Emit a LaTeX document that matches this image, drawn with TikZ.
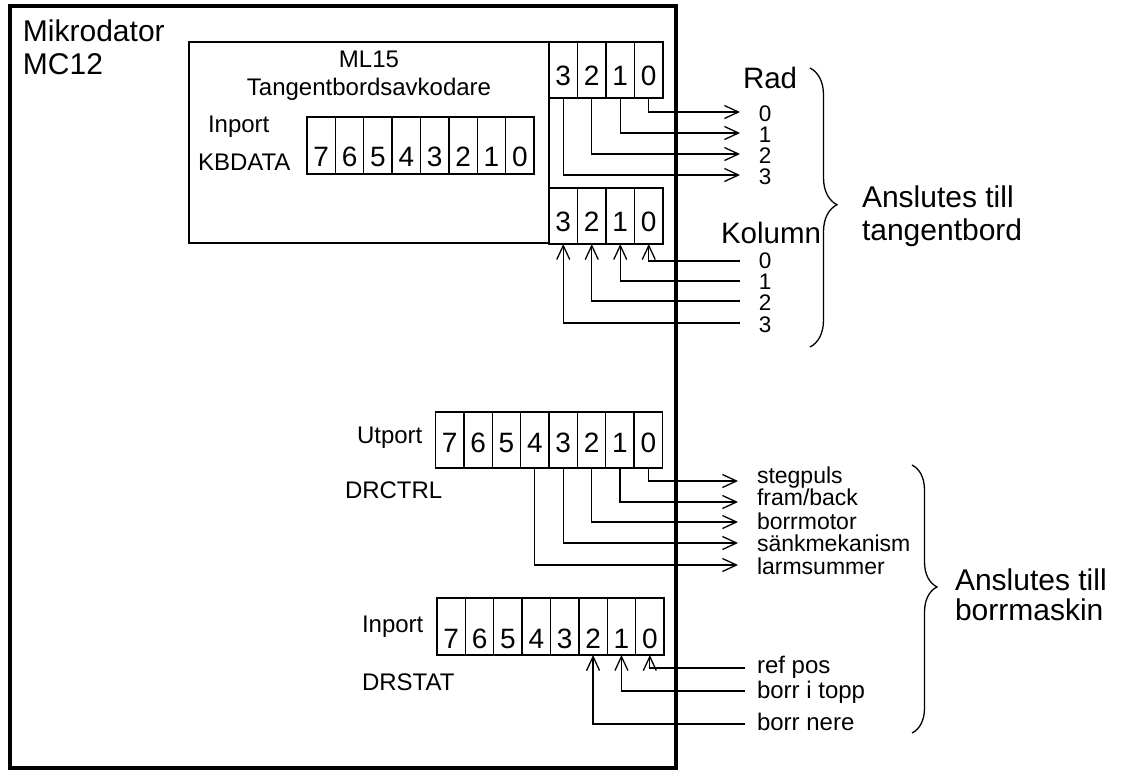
\documentclass[tikz,border=0pt]{standalone}
\usepackage{fontspec}
\setmainfont{Liberation Sans}
\usetikzlibrary{arrows.meta,decorations.pathreplacing}
\begin{document}
\begin{tikzpicture}[x=1pt,y=-1pt,
  every node/.style={inner sep=0pt, outer sep=0pt},
  wire/.style={line width=1.3pt},
  arr/.style={wire, -{Straight Barb[length=14pt,width=13pt]}},
  cell/.style={draw, wire, minimum height=57pt, text depth=0pt, font=\fontsize{28}{31}\selectfont},
  lbl/.style={anchor=base west, font=\fontsize{24}{28}\selectfont},
  sig/.style={anchor=base west, font=\fontsize{23}{26}\selectfont},
  ctr/.style={anchor=base, font=\fontsize{24}{28}\selectfont},
  big/.style={anchor=base west, font=\fontsize{30}{34}\selectfont},
  mid/.style={anchor=base west, font=\fontsize{29.5}{33}\selectfont},
  num/.style={anchor=base, font=\fontsize{22.5}{25}\selectfont},
  bracestyle/.style={wire, decorate}
]
\useasboundingbox (0,0) rectangle (1124,772);

% outer computer box
\node[draw, line width=3.5pt, minimum width=666pt, minimum height=762pt, anchor=north west] (mc) at (10,6) {};
\node[big] (mik) at (23,41) {Mikrodator};
\node[big] (mcn) at (23,74) {MC12};

% ML15 box
\node[draw, wire, minimum width=360pt, minimum height=201pt, anchor=north west] (ml) at (189,42) {};
\node[ctr] (mlt) at (369,67) {ML15};
\node[ctr] (mlt2) at (369,95) {Tangentbordsavkodare};
\node[lbl] (kbin) at (208,132) {Inport};
\node[lbl] (kbname) at (198,170) {KBDATA};

% KBDATA register
\foreach \b [count=\k from 0] in {7,6,5,4,3,2,1,0}
  \node[cell, minimum width=28.375pt, text height=41pt] (kb\b) at ({307+28.375*(\k+0.5)},145.5) {\b};

% row register (upper)
\foreach \b [count=\k from 0] in {3,2,1,0}
  \node[cell, minimum width=28.5pt, minimum height=56pt, text height=30pt] (tr\b) at ({549+28.5*(\k+0.5)},70) {\b};
% column register (lower)
\foreach \b [count=\k from 0] in {3,2,1,0}
  \node[cell, minimum width=28.5pt, minimum height=56pt, text height=31pt] (br\b) at ({549+28.5*(\k+0.5)},216) {\b};

% Utport DRCTRL
\node[lbl] (utl) at (357,443) {Utport};
\node[lbl] (drc) at (345,498) {DRCTRL};
\foreach \b [count=\k from 0] in {7,6,5,4,3,2,1,0}
  \node[cell, minimum width=28.375pt, minimum height=56pt, text height=24pt] (u\b) at ({435.5+28.375*(\k+0.5)},440) {\b};

% Inport DRSTAT
\node[lbl] (dsin) at (362,632) {Inport};
\node[lbl] (dsn) at (362,690) {DRSTAT};
\foreach \b [count=\k from 0] in {7,6,5,4,3,2,1,0}
  \node[cell, minimum width=28.375pt, text height=43pt] (d\b) at ({437+28.375*(\k+0.5)},626.5) {\b};

% Rad connectors
\node[mid] (rad) at (743,88) {Rad};
\foreach \b/\y/\t in {0/112/121,1/133/142,2/154/163,3/175/184} {
  \coordinate (rt\b) at (740,\y);
  \draw[arr] (tr\b.south) |- (rt\b);
  \node[num] (rn\b) at (765,\t) {\b};
}

% Kolumn connectors
\node[mid] (kol) at (721,243) {Kolumn};
\foreach \b/\y/\t in {0/261/268,1/281/289,2/301/310,3/323/332} {
  \coordinate (ct\b) at (740,\y);
  \draw[arr] (ct\b) -| (br\b.south);
  \node[num] (cn\b) at (765,\t) {\b};
}

% brace keyboard
\coordinate (b1s) at (810,68);
\coordinate (b1e) at (810,347);
\draw[bracestyle, decoration={brace, amplitude=27pt, aspect=0.49}] (b1s) -- (b1e);
\node[big] (a1) at (862,207) {Anslutes till};
\node[big] (a2) at (862,240) {tangentbord};

% DRCTRL outputs
\foreach \b/\y/\t/\s in {0/481/483/stegpuls,1/502/505/fram\slash back,2/522/529/borrmotor,3/543/551/sänkmekanism,4/565/574/larmsummer} {
  \coordinate (ut\b) at (738,\y);
  \draw[arr] (u\b.south) |- (ut\b);
  \node[sig] (ul\b) at (757,\t) {\s};
}

% DRSTAT inputs
\foreach \b/\y/\t/\s in {0/668/673/ref pos,1/691/698/borr i topp,2/724/730/borr nere} {
  \coordinate (dt\b) at (745,\y);
  \draw[arr] (dt\b) -| (d\b.south);
  \node[lbl] (dl\b) at (757,\t) {\s};
}

% brace drill
\coordinate (b2s) at (912,465);
\coordinate (b2e) at (912,733);
\draw[bracestyle, decoration={brace, amplitude=25pt, aspect=0.455}] (b2s) -- (b2e);
\node[big] (a3) at (955,590) {Anslutes till};
\node[big] (a4) at (955,620) {borrmaskin};
\end{tikzpicture}
\end{document}
